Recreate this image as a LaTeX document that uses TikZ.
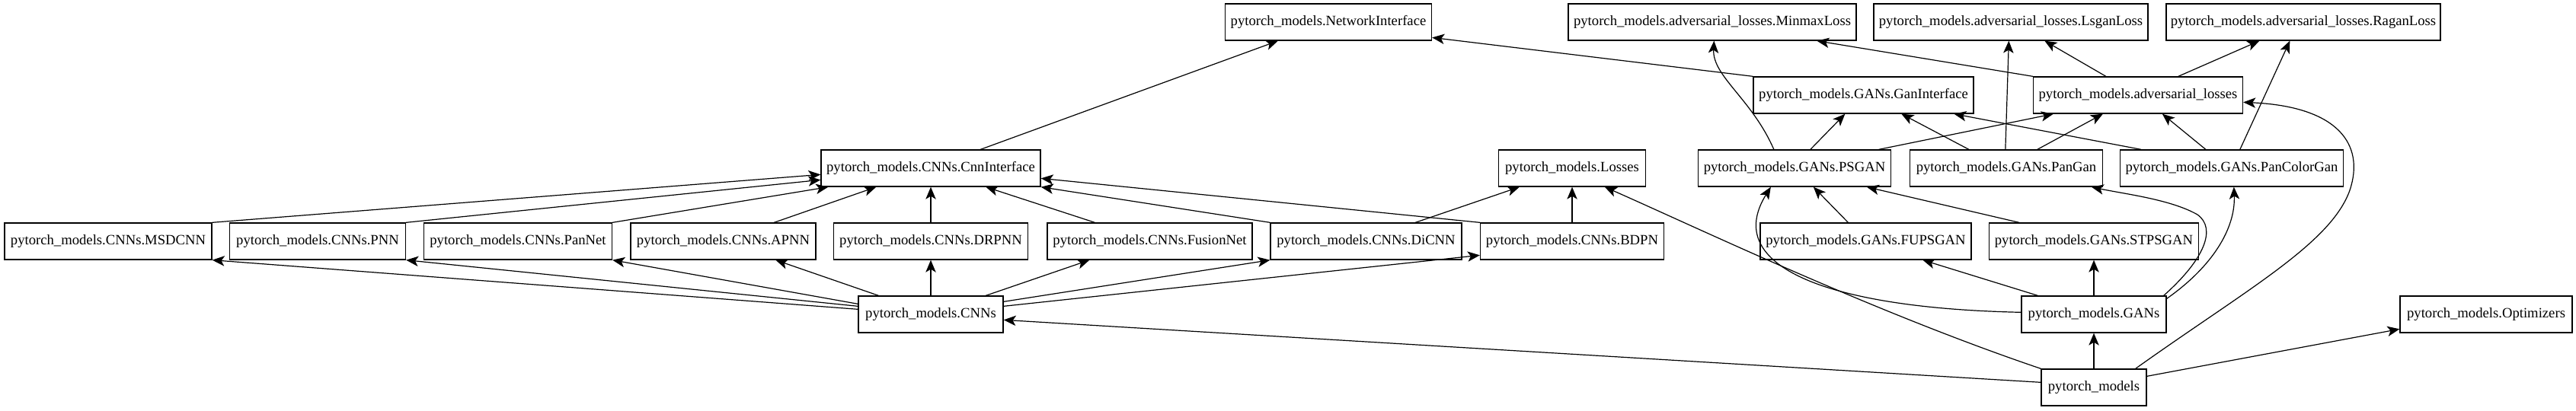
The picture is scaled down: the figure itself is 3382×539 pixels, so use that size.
\documentclass[tikz,border=0pt]{standalone}
\usepackage{fontspec}
\setmainfont{Liberation Serif}
\usetikzlibrary{arrows.meta,calc}
\begin{document}
\begin{tikzpicture}[x=0.75pt,y=-0.75pt,
  box/.style={draw=black,line width=1pt,fill=white,inner xsep=0pt,inner ysep=0pt,
    minimum height=36pt,font=\fontsize{14}{16}\selectfont,align=center},
  w/.style={minimum width=#1*0.75pt},
  dep/.style={line width=0.9pt,-{Stealth[length=12pt,width=10pt,inset=3pt]}}]
\useasboundingbox[fill=white] (0,0) rectangle (3382,539);
% row 0
\node[box,w=271] (NI) at (1744,29) {pytorch\_models.NetworkInterface};
\node[box,w=378] (MM) at (2248,29) {pytorch\_models.adversarial\_losses.MinmaxLoss};
\node[box,w=360] (LS) at (2640,29) {pytorch\_models.adversarial\_losses.LsganLoss};
\node[box,w=360] (RG) at (3024,29) {pytorch\_models.adversarial\_losses.RaganLoss};
% row 1
\node[box,w=289] (GI) at (2446.5,125) {pytorch\_models.GANs.GanInterface};
\node[box,w=275] (AL) at (2807,125) {pytorch\_models.adversarial\_losses};
% row 2
\node[box,w=288] (CI) at (1222,221) {pytorch\_models.CNNs.CnnInterface};
\node[box,w=193] (LO) at (2064,221) {pytorch\_models.Losses};
\node[box,w=253] (PS) at (2356,221) {pytorch\_models.GANs.PSGAN};
\node[box,w=253] (PG) at (2634,221) {pytorch\_models.GANs.PanGan};
\node[box,w=293] (PC) at (2930,221) {pytorch\_models.GANs.PanColorGan};
% row 3
\node[box,w=272] (MS) at (142,317) {pytorch\_models.CNNs.MSDCNN};
\node[box,w=231] (PN) at (417,317) {pytorch\_models.CNNs.PNN};
\node[box,w=247] (PA) at (680,317) {pytorch\_models.CNNs.PanNet};
\node[box,w=243] (AP) at (949.5,317) {pytorch\_models.CNNs.APNN};
\node[box,w=255] (DR) at (1222,317) {pytorch\_models.CNNs.DRPNN};
\node[box,w=269] (FN) at (1509.5,317) {pytorch\_models.CNNs.FusionNet};
\node[box,w=251] (DI) at (1793.5,317) {pytorch\_models.CNNs.DiCNN};
\node[box,w=241] (BD) at (2064,317) {pytorch\_models.CNNs.BDPN};
\node[box,w=277] (FU) at (2449.5,317) {pytorch\_models.GANs.FUPSGAN};
\node[box,w=275] (ST) at (2749,317) {pytorch\_models.GANs.STPSGAN};
% row 4
\node[box,w=190] (CN) at (1222,413) {pytorch\_models.CNNs};
\node[box,w=190] (GA) at (2749,413) {pytorch\_models.GANs};
\node[box,w=226] (OP) at (3264,413) {pytorch\_models.Optimizers};
% row 5
\node[box,w=138] (PM) at (2749,509) {pytorch\_models};

% CNN family -> CnnInterface
\draw[dep] (MS.north east) -- ($(CI.north west)+(0,33)$);
\draw[dep] (PN.north east) -- ($(CI.north west)+(0,40)$);
\draw[dep] (PA.north east) -- ($(CI.south west)+(10,0)$);
\draw[dep] ($(AP.north west)+(189,0)$) -- ($(CI.south west)+(73,0)$);
\draw[dep] (DR.north) -- (CI.south);
\draw[dep] ($(FN.north west)+(63,0)$) -- ($(CI.south west)+(217,0)$);
\draw[dep] (DI.north west) -- (CI.south east);
\draw[dep] (BD.north west) -- ($(CI.north east)+(0,38)$);
\draw[dep] ($(DI.north west)+(191,0)$) -- ($(LO.south west)+(28,0)$);
\draw[dep] (BD.north) -- (LO.south);
\draw[dep] ($(CI.north west)+(210,0)$) -- ($(NI.south west)+(70,0)$);
% CNNs -> members
\draw[dep] ($(CN.north west)+(0,18)$) -- (MS.south east);
\draw[dep] ($(CN.north west)+(0,14)$) -- (PN.south east);
\draw[dep] ($(CN.north west)+(0,11)$) -- (PA.south east);
\draw[dep] ($(CN.north west)+(27,0)$) -- ($(AP.south west)+(191,0)$);
\draw[dep] (CN.north) -- (DR.south);
\draw[dep] ($(CN.north west)+(168,0)$) -- ($(FN.south west)+(56,0)$);
\draw[dep] ($(CN.north east)+(0,8)$) -- (DI.south west);
\draw[dep] ($(CN.north east)+(0,14)$) -- ($(BD.north west)+(0,43)$);
% pytorch_models
\draw[dep] ($(PM.north west)+(0,18)$) -- ($(CN.north east)+(0,32)$);
\draw[dep] (PM.north) -- (GA.south);
\draw[dep] ($(PM.north east)+(0,10)$) -- ($(OP.north west)+(0,44)$);
\draw[dep] (PM.north west) .. controls (2460,410) and (2230,300) .. ($(LO.south west)+(140,0)$);
\draw[dep] ($(PM.north east)+(-15,0)$) .. controls (2950,380) and (3060,320) .. (3085,250)
   .. controls (3105,190) and (3070,140) .. ($(AL.north east)+(0,34)$);
% GANs
\draw[dep] ($(GA.north west)+(0,22)$) .. controls (2400,405) and (2260,350) .. ($(PS.south west)+(96,0)$);
\draw[dep] ($(GA.north west)+(22,0)$) -- ($(FU.south west)+(214,0)$);
\draw[dep] (GA.north) -- (ST.south);
\draw[dep] ($(GA.north east)+(-4,0)$) .. controls (2895,340) and (2910,300) .. (2885,282)
   .. controls (2850,262) and (2790,255) .. ($(PG.south west)+(239,0)$);
\draw[dep] ($(GA.north east)+(0,4)$) .. controls (2905,350) and (2935,300) .. ($(PC.south west)+(150,0)$);
\draw[dep] ($(FU.north west)+(116,0)$) -- ($(PS.south west)+(152,0)$);
\draw[dep] ($(ST.north west)+(40,0)$) -- ($(PS.south west)+(222,0)$);
% GAN row -> interfaces / losses
\draw[dep] ($(PS.north west)+(100,0)$) .. controls (2300,130) and (2248,100) .. ($(MM.south west)+(192,0)$);
\draw[dep] (AL.north west) -- ($(MM.south west)+(327,0)$);
\draw[dep] (GI.north west) -- ($(NI.north east)+(0,45)$);
\draw[dep] ($(PG.north west)+(126,0)$) -- ($(LS.south west)+(178,0)$);
\draw[dep] ($(AL.north west)+(96,0)$) -- ($(LS.south west)+(225,0)$);
\draw[dep] ($(AL.north west)+(191,0)$) -- ($(RG.south west)+(123,0)$);
\draw[dep] ($(PC.north west)+(158,0)$) -- ($(RG.south west)+(163,0)$);
\draw[dep] ($(PS.north west)+(148,0)$) -- ($(GI.south west)+(121,0)$);
\draw[dep] ($(PS.north west)+(238,0)$) -- ($(AL.south west)+(27,0)$);
\draw[dep] ($(PG.north west)+(78,0)$) -- ($(GI.south west)+(195,0)$);
\draw[dep] ($(PG.north west)+(168,0)$) -- ($(AL.south west)+(92,0)$);
\draw[dep] ($(PC.north west)+(28,0)$) -- ($(GI.south west)+(264,0)$);
\draw[dep] ($(PC.north west)+(113,0)$) -- ($(AL.south west)+(170,0)$);
\end{tikzpicture}
\end{document}
